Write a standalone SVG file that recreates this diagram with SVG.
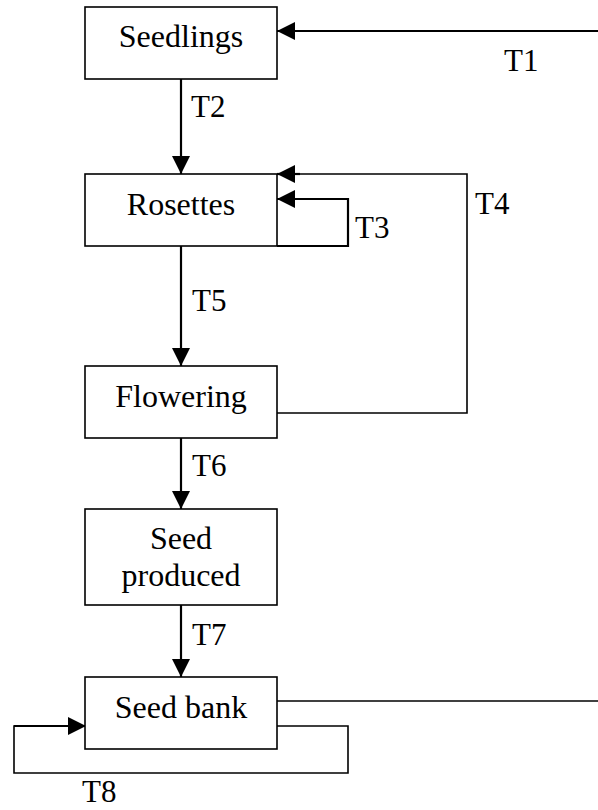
<svg xmlns="http://www.w3.org/2000/svg" width="598" height="810" viewBox="0 0 598 810">
<style>
.box{fill:#fff;stroke:#000;stroke-width:1.6}
.lbl{font-family:"Liberation Serif","Times New Roman",serif;font-size:32px;fill:#000}
.t{font-family:"Liberation Serif","Times New Roman",serif;font-size:31px;fill:#000}
.c{fill:none;stroke:#000;stroke-width:2.2}
.p{fill:none;stroke:#000;stroke-width:1.6}
</style>
<defs>
<marker id="ah" markerUnits="userSpaceOnUse" markerWidth="18" markerHeight="18" viewBox="0 0 16 16" refX="16" refY="8" orient="auto">
<path d="M0,0 L16,8 L0,16 Z" fill="#000"/>
</marker>
</defs>
<rect width="598" height="810" fill="#fff"/>
<g id="connectors">
<path class="c" d="M598,31 H277" marker-end="url(#ah)"/>
<path class="c" d="M181,79 V174" marker-end="url(#ah)"/>
<path class="c" d="M277,246 H348 V199 H277" marker-end="url(#ah)"/>
<path class="p" d="M277,413 H467 V174 H300"/>
<path class="c" d="M300,174 H277" marker-end="url(#ah)"/>
<path class="c" d="M181,246 V366" marker-end="url(#ah)"/>
<path class="c" d="M181,438 V509" marker-end="url(#ah)"/>
<path class="c" d="M181,605 V677" marker-end="url(#ah)"/>
<path class="p" d="M277,701 H598"/>
<path class="p" d="M277,726 H348 V773 H14 V726 H40"/>
<path class="c" d="M14,726 H86" marker-end="url(#ah)"/>
<text class="t" x="504" y="71">T1</text>
<text class="t" x="191" y="117">T2</text>
<text class="t" x="355" y="238">T3</text>
<text class="t" x="475" y="214">T4</text>
<text class="t" x="192" y="311">T5</text>
<text class="t" x="192" y="476">T6</text>
<text class="t" x="192" y="645">T7</text>
<text class="t" x="82" y="802">T8</text>
</g>
<g id="seedlings">
<rect class="box" x="85" y="7" width="192" height="72"/>
<text class="lbl" x="181" y="47" text-anchor="middle">Seedlings</text>
</g>
<g id="rosettes">
<rect class="box" x="85" y="174" width="192" height="72"/>
<text class="lbl" x="181" y="215" text-anchor="middle">Rosettes</text>
</g>
<g id="flowering">
<rect class="box" x="85" y="366" width="192" height="72"/>
<text class="lbl" x="181" y="407" text-anchor="middle">Flowering</text>
</g>
<g id="seed-produced">
<rect class="box" x="85" y="509" width="192" height="96"/>
<text class="lbl" x="181" y="549" text-anchor="middle">Seed</text>
<text class="lbl" x="181" y="586" text-anchor="middle">produced</text>
</g>
<g id="seed-bank">
<rect class="box" x="85" y="677" width="192" height="72"/>
<text class="lbl" x="181" y="718" text-anchor="middle">Seed bank</text>
</g>
</svg>
